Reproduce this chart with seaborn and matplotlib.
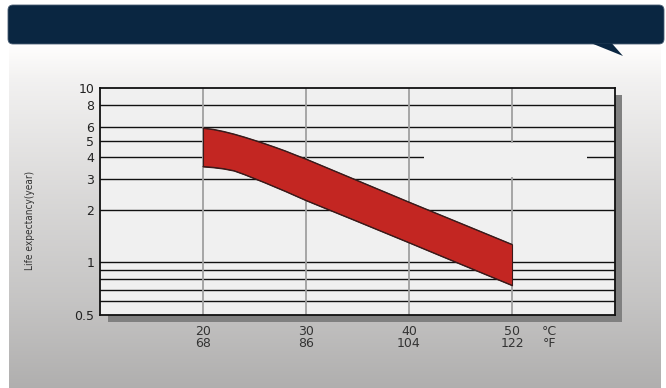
import numpy as np
import pandas as pd
import matplotlib
matplotlib.use("Agg")
import matplotlib.pyplot as plt
import seaborn as sns
from matplotlib.patches import FancyBboxPatch, Polygon, Rectangle

# Service life vs. ambient temperature (log scale)
temp_c = [20, 21, 22, 23, 24, 25, 26, 27, 28, 29, 30, 35, 40, 45, 50]
life_upper = [5.9, 5.8, 5.64, 5.45, 5.24, 5.02, 4.8, 4.58, 4.36, 4.13, 3.92, 2.95, 2.22, 1.68, 1.27]
life_lower = [3.55, 3.51, 3.45, 3.36, 3.2, 3.03, 2.87, 2.71, 2.56, 2.41, 2.27, 1.72, 1.3, 0.98, 0.74]

x_ticks_c = [20, 30, 40, 50]
x_ticks_f = [68, 86, 104, 122]
y_major = [0.5, 1, 2, 3, 4, 5, 6, 8, 10]
y_major_labels = ["0.5", "1", "2", "3", "4", "5", "6", "8", "10"]
y_grid = [0.6, 0.7, 0.8, 0.9, 1, 2, 3, 4, 5, 6, 8]

sns.set_style("white")
plt.rcParams["font.family"] = ["DejaVu Sans"]

W, H = 666, 388
fig = plt.figure(figsize=(W / 100, H / 100), dpi=100)

# Background layer in pixel coordinates
bg = fig.add_axes([0, 0, 1, 1], zorder=0)

stops_y = np.array([44, 80, 200, 300, 388])
stops_v = np.array([1.0, 0.95, 0.85, 0.775, 0.69])
rows = np.linspace(44, 388, 300)
vals = np.interp(rows, stops_y, stops_v)
grad = np.clip(np.stack([vals, vals - 0.004, vals - 0.006], axis=-1), 0, 1).reshape(-1, 1, 3)
bg.imshow(grad, extent=(9, 661, 388, 44), aspect="auto", origin="upper", zorder=0)

banner = FancyBboxPatch((8, 5), 656, 39, boxstyle="round,pad=0,rounding_size=5",
                        fc="#0a2641", ec="#4a5e74", lw=0.6, zorder=2)
bg.add_patch(banner)
bg.add_patch(Polygon([(592, 43.5), (623, 56), (612, 43.5)], closed=True,
                     fc="#0a2641", ec="none", zorder=2))

# Drop shadow behind the plot frame
bg.add_patch(Rectangle((108, 95), 514, 227, fc="#808080", ec="none", zorder=1))

bg.set_xlim(0, W)
bg.set_ylim(H, 0)
bg.axis("off")

# Main plot
ax = fig.add_axes([100 / W, (H - 315) / H, 515 / W, 227 / H], zorder=1)
ax.set_facecolor("#f0f0f0")
ax.set_yscale("log")
ax.set_xlim(10, 60)
ax.set_ylim(0.5, 10)

for v in y_grid:
    ax.axhline(v, color="#111111", lw=1.0, zorder=1)
for t in x_ticks_c:
    ax.axvline(t, color="#a0a0a0", lw=1.3, zorder=1)

# Blank area over the grid
ax.add_patch(Rectangle((41.45, 3.09), 57.3 - 41.45, 4.84 - 3.09,
                       fc="#f0f0f0", ec="none", zorder=1.5))

ax.fill_between(temp_c, life_lower, life_upper, color="#c32622",
                edgecolor="#3b1a1a", lw=0.8, zorder=3)

df = pd.DataFrame({
    "temp": temp_c * 2,
    "life": life_upper + life_lower,
    "bound": ["upper"] * len(temp_c) + ["lower"] * len(temp_c),
})
sns.lineplot(data=df, x="temp", y="life", hue="bound",
             palette={"upper": "#3b1a1a", "lower": "#3b1a1a"},
             lw=0.8, legend=False, ax=ax, zorder=4)

ax.set_yticks(y_major)
ax.set_yticklabels(y_major_labels)
ax.yaxis.set_minor_locator(matplotlib.ticker.NullLocator())
ax.set_xticks(x_ticks_c)
ax.set_xticklabels([f"{c}\n{f}" for c, f in zip(x_ticks_c, x_ticks_f)])
ax.set_xlabel("")
ax.set_ylabel("")
ax.tick_params(axis="y", length=0, pad=4, labelsize=9, labelcolor="#222222")
ax.tick_params(axis="x", length=0, pad=7, labelsize=9, labelcolor="#333333")
for lbl in ax.get_xticklabels():
    lbl.set_linespacing(0.95)
    lbl.set_x(lbl.get_position()[0])

for s in ax.spines.values():
    s.set_visible(True)
    s.set_color("#111111")
    s.set_linewidth(1.3)

fig.text(549 / W, 1 - 331.5 / H, "°C", ha="center", va="center", fontsize=9, color="#333333")
fig.text(549 / W, 1 - 343.5 / H, "°F", ha="center", va="center", fontsize=9, color="#333333")

fig.text(30 / W, 1 - 220 / H, "Life expectancy(year)", rotation=90, ha="center",
         va="center", fontsize=7.2, fontstretch="condensed", color="#333333")

fig.savefig("out.png", dpi=100)
